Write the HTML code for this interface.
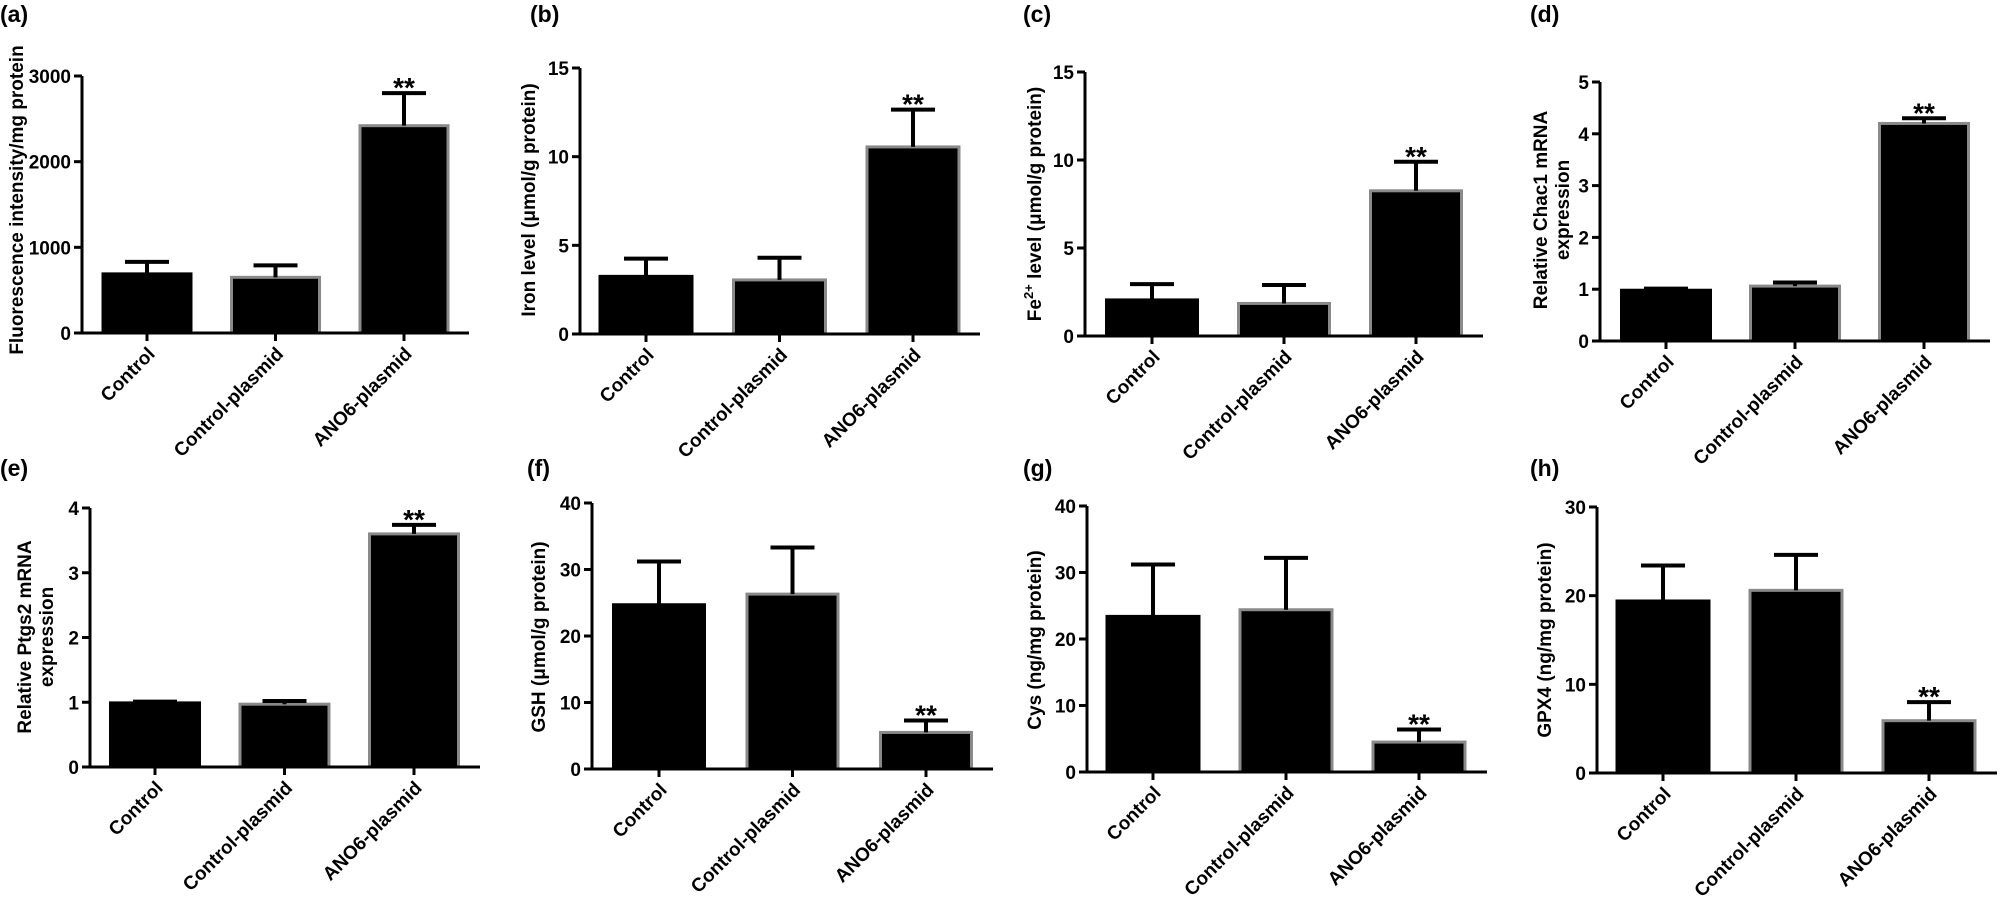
<!DOCTYPE html>
<html><head><meta charset="utf-8">
<style>
html,body{margin:0;padding:0;background:#fff;}
svg{display:block;font-family:"Liberation Sans",Arial,sans-serif;font-weight:bold;}
</style></head>
<body>
<svg id="fig" width="2000" height="918" viewBox="0 0 2000 918" xmlns="http://www.w3.org/2000/svg"></svg>
<script>
const categories = ["Control", "Control-plasmid", "ANO6-plasmid"];
const meanA = [690, 650, 2420];   const errA = [830, 790, 2800];
const meanB = [3.25, 3.05, 10.55]; const errB = [4.25, 4.3, 12.65];
const meanC = [2.05, 1.85, 8.25];  const errC = [2.95, 2.9, 9.9];
const meanD = [0.98, 1.06, 4.2];   const errD = [1.01, 1.13, 4.3];
const meanE = [0.99, 0.97, 3.6];   const errE = [1.01, 1.02, 3.74];
const meanF = [24.7, 26.3, 5.5];   const errF = [31.2, 33.3, 7.3];
const meanG = [23.4, 24.4, 4.5];   const errG = [31.2, 32.2, 6.4];
const meanH = [19.4, 20.6, 5.9];   const errH = [23.4, 24.6, 8.0];
const ticksA = [0, 1000, 2000, 3000];
const ticks15 = [0, 5, 10, 15];
const ticks5 = [0, 1, 2, 3, 4, 5];
const ticks4 = [0, 1, 2, 3, 4];
const ticks40 = [0, 10, 20, 30, 40];
const ticks30 = [0, 10, 20, 30];
const sig = ["", "", "**"];

const NS = "http://www.w3.org/2000/svg";
const svg = document.getElementById("fig");
function mk(tag, attrs, parent) {
  const e = document.createElementNS(NS, tag);
  for (const k in attrs) e.setAttribute(k, attrs[k]);
  (parent || svg).appendChild(e);
  return e;
}

const panels = [
  {id:"a", label:"(a)", lx:0, ly:22, ax:82, top:76, zero:333, xend:469, c0:147, step:128.5, bw:88, means:meanA, errs:errA, ticks:ticksA, title:["Fluorescence intensity/mg protein"], tx:16, ty:200},
  {id:"b", label:"(b)", lx:530, ly:22, ax:580, top:68, zero:334, xend:980, c0:646, step:133.5, bw:92, means:meanB, errs:errB, ticks:ticks15, title:["Iron level (μmol/g protein)"], tx:528, ty:200},
  {id:"c", label:"(c)", lx:1023, ly:22, ax:1085, top:72, zero:336, xend:1483, c0:1152, step:132, bw:91, means:meanC, errs:errC, ticks:ticks15, title:["FE2"], tx:1034, ty:204},
  {id:"d", label:"(d)", lx:1530, ly:22, ax:1600, top:82, zero:341, xend:1990, c0:1666, step:129, bw:89, means:meanD, errs:errD, ticks:ticks5, title:["Relative Chac1 mRNA","expression"], tx:1540, ty:210},
  {id:"e", label:"(e)", lx:0, ly:476, ax:90, top:508, zero:767, xend:480, c0:155, step:129.5, bw:89, means:meanE, errs:errE, ticks:ticks4, title:["Relative Ptgs2 mRNA","expression"], tx:24, ty:637},
  {id:"f", label:"(f)", lx:527, ly:476, ax:592, top:503, zero:769, xend:993, c0:659, step:133.5, bw:91, means:meanF, errs:errF, ticks:ticks40, title:["GSH (μmol/g protein)"], tx:538, ty:637},
  {id:"g", label:"(g)", lx:1023, ly:476, ax:1087, top:506, zero:772, xend:1487, c0:1153, step:133, bw:92, means:meanG, errs:errG, ticks:ticks40, title:["Cys (ng/mg protein)"], tx:1034, ty:640},
  {id:"h", label:"(h)", lx:1530, ly:476, ax:1597, top:507, zero:773, xend:1997, c0:1663, step:133, bw:92, means:meanH, errs:errH, ticks:ticks30, title:["GPX4 (ng/mg protein)"], tx:1544, ty:640}
];

panels.forEach(p => {
  const g = mk("g", {});
  
  
  const ymax = p.ticks[p.ticks.length - 1];
  const y = v => p.zero - (v / ymax) * (p.zero - p.top);
  const x = i => p.c0 + i * p.step;

  const lab = mk("text", {x:p.lx, y:p.ly, "font-size":23}, g);
  lab.textContent = p.label;
  
  

  const tg = mk("g", {transform:`translate(${p.tx},${p.ty}) rotate(-90)`}, g);
  
  
  if (p.title[0] === "FE2") {
    const t = mk("text", {x:0, y:7, "text-anchor":"middle", "font-size":19}, tg);
    t.innerHTML = 'Fe<tspan font-size="13" dy="-8">2+</tspan><tspan dy="8"> level (μmol/g protein)</tspan>';
  } else {
    p.title.forEach((s, k) => {
      const t = mk("text", {x:0, y:7 + k * 22, "text-anchor":"middle", "font-size":19}, tg);
      t.textContent = s;
    });
  }

  p.means.forEach((v, i) => {
    const r = mk("rect", {x:x(i) - p.bw / 2, y:y(v), width:p.bw, height:p.zero - y(v), fill:"#000",
      stroke: i === 0 ? "#000" : "#8a8a8a", "stroke-width":3}, g);
    
    
    const ev = p.errs[i];
    const eb = mk("path", {d:`M${x(i)} ${y(v)} V${y(ev)} M${x(i) - 22} ${y(ev)} H${x(i) + 22}`, stroke:"#000", "stroke-width":4, fill:"none"}, g);
    
    
    if (sig[i]) {
      const s = mk("text", {x:x(i), y:y(ev) + 4, "text-anchor":"middle", "font-size":28}, g);
      s.textContent = sig[i];
      
      
    }
  });

  const axes = mk("path", {d:`M${p.ax} ${p.top} V${p.zero} M${p.ax - 8} ${p.zero} H${p.xend}`, stroke:"#000", "stroke-width":3, fill:"none"}, g);
  
  
  p.ticks.forEach(t => {
    mk("line", {x1:p.ax - 8, x2:p.ax, y1:y(t), y2:y(t), stroke:"#000", "stroke-width":3}, g);
    const tl = mk("text", {x:p.ax - 11, y:y(t) + 7, "text-anchor":"end", "font-size":19}, g);
    tl.textContent = t;
    
    
  });
  categories.forEach((c, i) => {
    mk("line", {x1:x(i), x2:x(i), y1:p.zero, y2:p.zero + 8, stroke:"#000", "stroke-width":3}, g);
    const xl = mk("text", {x:0, y:0, "text-anchor":"end", "font-size":19,
      transform:`translate(${x(i) + 9},${p.zero + 22}) rotate(-45)`}, g);
    xl.textContent = c;
    
    
  });
});
</script>
</body></html>
